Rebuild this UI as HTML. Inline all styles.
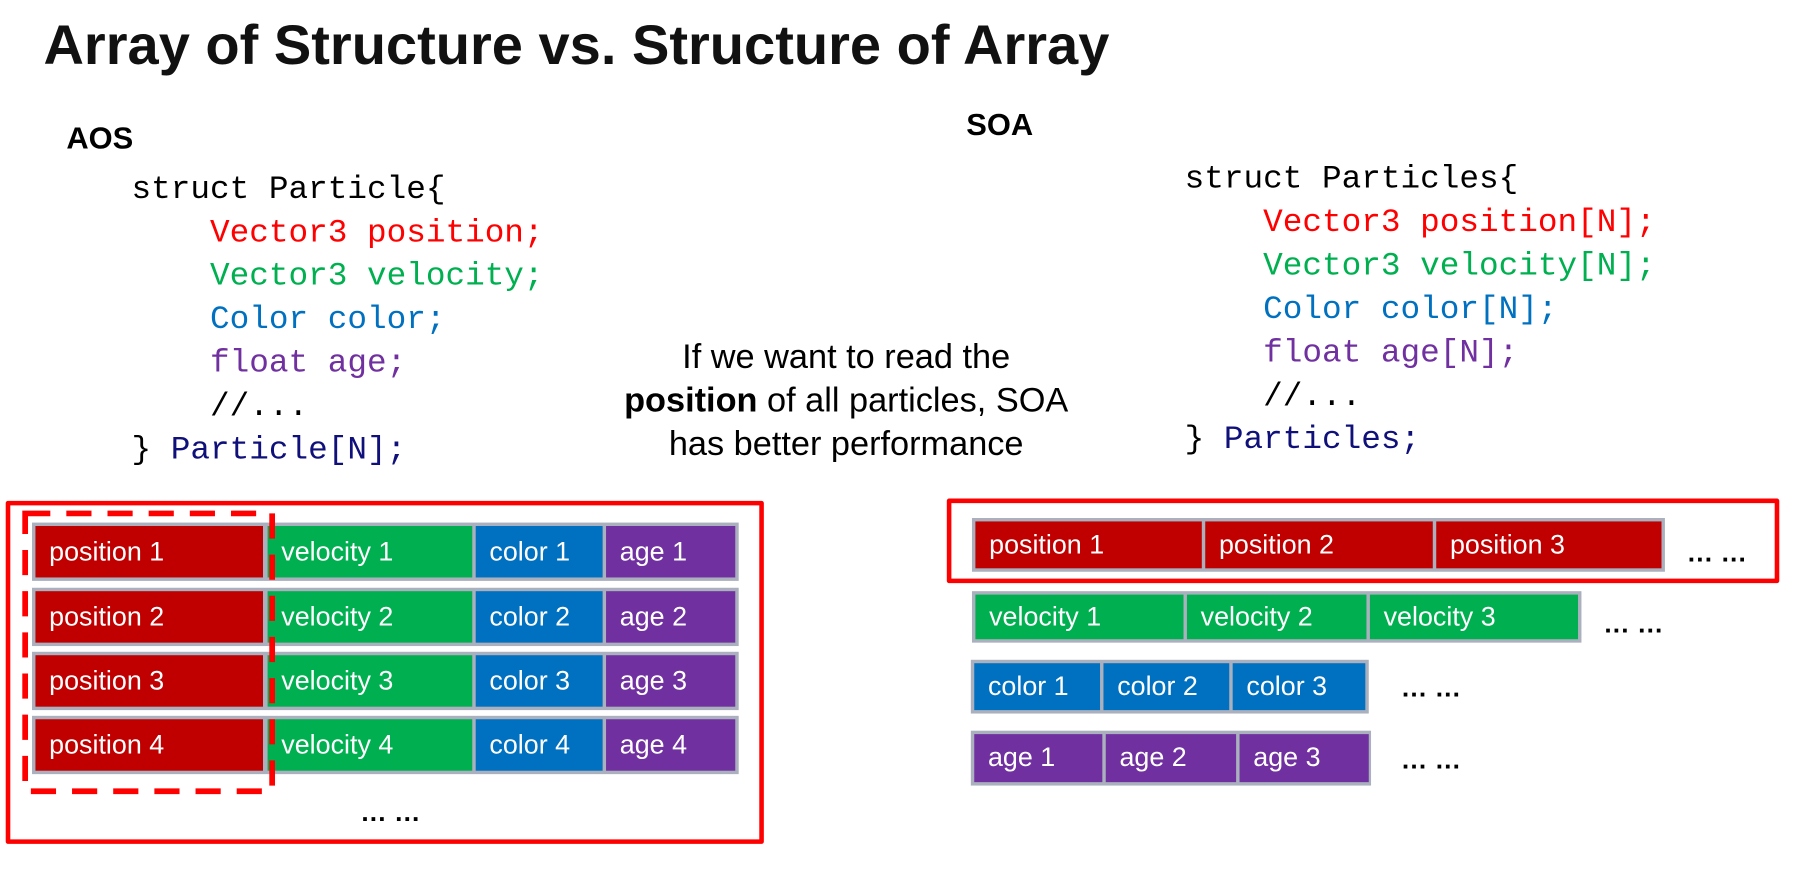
<!DOCTYPE html>
<html><head><meta charset="utf-8"><style>
html,body{margin:0;padding:0;background:#fff;overflow:hidden;width:1793px;height:854px}
#s{position:absolute;left:0;top:0;width:1568px;height:747px;transform:scale(1.14349);transform-origin:0 0;font-family:"Liberation Sans",Arial,sans-serif}
.a{position:absolute;white-space:pre}
.code{font-family:"Liberation Mono",monospace;font-size:28.6px;line-height:38px}
.row{position:absolute;background:#aab0bd}
.c{position:absolute;color:#fff;font-size:23.5px;line-height:1;display:flex;align-items:center;padding-left:12px;box-sizing:border-box}
.R{background:#c00000}.G{background:#00b050}.B{background:#0070c0}.P{background:#7030a0}
.dots{position:absolute;font-weight:bold;font-size:23px;letter-spacing:1px}
</style></head><body><div id="s">
<div class="a" style="left:38px;top:12px;font-size:49px;font-weight:bold;color:#111">Array of Structure vs. Structure of Array</div>
<div class="a" style="left:58px;top:106px;font-size:27px;font-weight:bold">AOS</div>
<div class="a" style="left:845px;top:94px;font-size:27px;font-weight:bold">SOA</div>

<div class="a code" style="left:115px;top:147px;color:#000">struct Particle{
    <span style="color:#f00">Vector3 position;</span>
    <span style="color:#00b050">Vector3 velocity;</span>
    <span style="color:#0070c0">Color color;</span>
    <span style="color:#7030a0">float age;</span>
    //...
} <span style="color:#10107a">Particle[N];</span></div>

<div class="a code" style="left:1036px;top:138px;color:#000">struct Particles{
    <span style="color:#f00">Vector3 position[N];</span>
    <span style="color:#00b050">Vector3 velocity[N];</span>
    <span style="color:#0070c0">Color color[N];</span>
    <span style="color:#7030a0">float age[N];</span>
    //...
} <span style="color:#10107a">Particles;</span></div>

<div class="a" style="left:490px;top:294px;width:500px;text-align:center;font-size:30px;line-height:38px;white-space:normal">If we want to read the<br><b>position</b> of all particles, SOA<br>has better performance</div>

<!-- AOS -->
<div class="a" style="left:5px;top:438px;width:655px;height:292px;border:4px solid #f00;box-sizing:content-box;border-radius:2px"></div>
<div class="row" style="left:28px;top:457px;width:618px;height:51px"></div>
<div class="row" style="left:28px;top:514px;width:618px;height:51px"></div>
<div class="row" style="left:28px;top:570px;width:618px;height:51px"></div>
<div class="row" style="left:28px;top:626px;width:618px;height:51px"></div>
<div class="c R" style="left:31px;top:460px;width:199px;height:45px">position 1</div>
<div class="c G" style="left:234px;top:460px;width:179px;height:45px">velocity 1</div>
<div class="c B" style="left:416px;top:460px;width:111px;height:45px">color 1</div>
<div class="c P" style="left:530px;top:460px;width:113px;height:45px">age 1</div>
<div class="c R" style="left:31px;top:517px;width:199px;height:45px">position 2</div>
<div class="c G" style="left:234px;top:517px;width:179px;height:45px">velocity 2</div>
<div class="c B" style="left:416px;top:517px;width:111px;height:45px">color 2</div>
<div class="c P" style="left:530px;top:517px;width:113px;height:45px">age 2</div>
<div class="c R" style="left:31px;top:573px;width:199px;height:45px">position 3</div>
<div class="c G" style="left:234px;top:573px;width:179px;height:45px">velocity 3</div>
<div class="c B" style="left:416px;top:573px;width:111px;height:45px">color 3</div>
<div class="c P" style="left:530px;top:573px;width:113px;height:45px">age 3</div>
<div class="c R" style="left:31px;top:629px;width:199px;height:45px">position 4</div>
<div class="c G" style="left:234px;top:629px;width:179px;height:45px">velocity 4</div>
<div class="c B" style="left:416px;top:629px;width:111px;height:45px">color 4</div>
<div class="c P" style="left:530px;top:629px;width:113px;height:45px">age 4</div>
<svg class="a" style="left:0;top:0" width="700" height="760"><path d="M22 449 H238 V692 H22 Z" fill="none" stroke="#f00" stroke-width="5" stroke-dasharray="22 14"/></svg>
<div class="dots" style="left:316px;top:697px">... ...</div>

<!-- SOA -->
<div class="a" style="left:828px;top:436px;width:720px;height:66px;border:4px solid #f00;border-radius:2px"></div>
<div class="row" style="left:850px;top:453px;width:606px;height:47px"></div>
<div class="c R" style="left:853px;top:456px;width:198px;height:41px">position 1</div>
<div class="c R" style="left:1054px;top:456px;width:199px;height:41px">position 2</div>
<div class="c R" style="left:1256px;top:456px;width:197px;height:41px">position 3</div>
<div class="dots" style="left:1476px;top:470px">... ...</div>

<div class="row" style="left:850px;top:517px;width:533px;height:45px"></div>
<div class="c G" style="left:853px;top:520px;width:182px;height:39px">velocity 1</div>
<div class="c G" style="left:1038px;top:520px;width:157px;height:39px">velocity 2</div>
<div class="c G" style="left:1198px;top:520px;width:182px;height:39px">velocity 3</div>
<div class="dots" style="left:1403px;top:532px">... ...</div>

<div class="row" style="left:849px;top:577px;width:348px;height:47px"></div>
<div class="c B" style="left:852px;top:580px;width:110px;height:41px">color 1</div>
<div class="c B" style="left:965px;top:580px;width:110px;height:41px">color 2</div>
<div class="c B" style="left:1078px;top:580px;width:116px;height:41px">color 3</div>
<div class="dots" style="left:1226px;top:588px">... ...</div>

<div class="row" style="left:849px;top:639px;width:350px;height:48px"></div>
<div class="c P" style="left:852px;top:642px;width:112px;height:42px">age 1</div>
<div class="c P" style="left:967px;top:642px;width:114px;height:42px">age 2</div>
<div class="c P" style="left:1084px;top:642px;width:113px;height:42px">age 3</div>
<div class="dots" style="left:1226px;top:651px">... ...</div>
</div></body></html>
